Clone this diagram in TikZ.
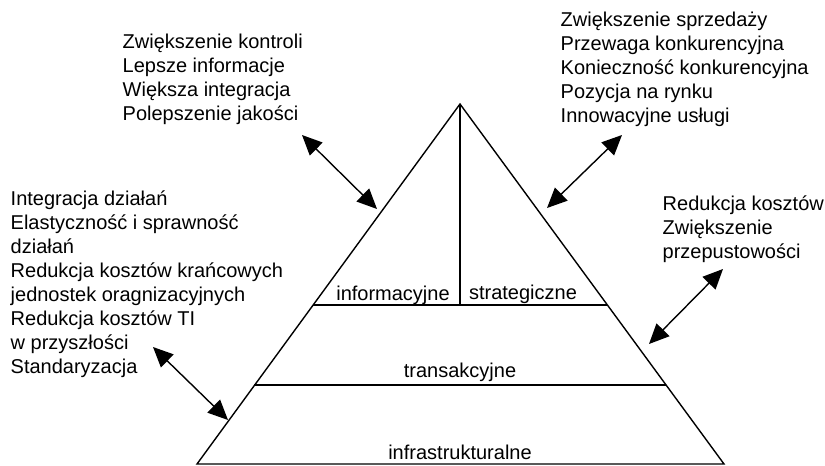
\documentclass[tikz,border=0pt]{standalone}
\usepackage{fontspec}
\setmainfont{Liberation Sans}
\usetikzlibrary{arrows.meta}

\begin{document}
\begin{tikzpicture}[x=1pt,y=-1pt,line width=1.4pt,
    txt/.style={inner sep=0pt,anchor=base west,align=left,font=\fontsize{20}{24}\selectfont},
    lvl/.style={inner sep=0pt,anchor=base,font=\fontsize{20}{24}\selectfont},
    pair/.style={{Triangle[length=20pt,width=18pt]}-{Triangle[length=20pt,width=18pt]}}]
  \useasboundingbox (0,0) rectangle (825,466);

  \coordinate (apex) at (460,104);
  \coordinate (baseL) at (197,464);
  \coordinate (baseR) at (724,464);
  \coordinate (midL) at (313,305);
  \coordinate (midR) at (607,305);
  \coordinate (midC) at (460,305);
  \coordinate (lowL) at (254,385);
  \coordinate (lowR) at (666,385);

  \draw (baseL) -- (apex) -- (baseR) -- cycle;
  \draw (midL) -- (midR);
  \draw (lowL) -- (lowR);
  \draw (apex) -- (midC);

  \node[lvl] (info) at (393,300) {informacyjne};
  \node[lvl] (strat) at (523,299) {strategiczne};
  \node[lvl] (trans) at (460,377) {transakcyjne};
  \node[lvl] (infra) at (460,459) {infrastrukturalne};

  \node[txt] (kontrola) at (122,120) {Zwiększenie kontroli\\Lepsze informacje\\Większa integracja\\Polepszenie jakości};
  \node[txt] (sprzedaz) at (560,122) {Zwiększenie sprzedaży\\Przewaga konkurencyjna\\Konieczność konkurencyjna\\Pozycja na rynku\\Innowacyjne usługi};
  \node[txt] (integracja) at (10,373) {Integracja działań\\Elastyczność i sprawność\\działań\\Redukcja kosztów krańcowych\\jednostek oragnizacyjnych\\Redukcja kosztów TI\\w przyszłości\\Standaryzacja};
  \node[txt] (koszty) at (662,258) {Redukcja kosztów\\Zwiększenie\\przepustowości};

  \coordinate (k1) at (302,135);
  \coordinate (k2) at (377,209);
  \coordinate (s1) at (622,135);
  \coordinate (s2) at (547,208);
  \coordinate (r1) at (723,269);
  \coordinate (r2) at (649,344);
  \coordinate (i1) at (153,347);
  \coordinate (i2) at (228,420);

  \foreach \u/\v in {k1/k2,s1/s2,r1/r2,i1/i2}
    \draw[pair] (\u) -- (\v);
\end{tikzpicture}
\end{document}
